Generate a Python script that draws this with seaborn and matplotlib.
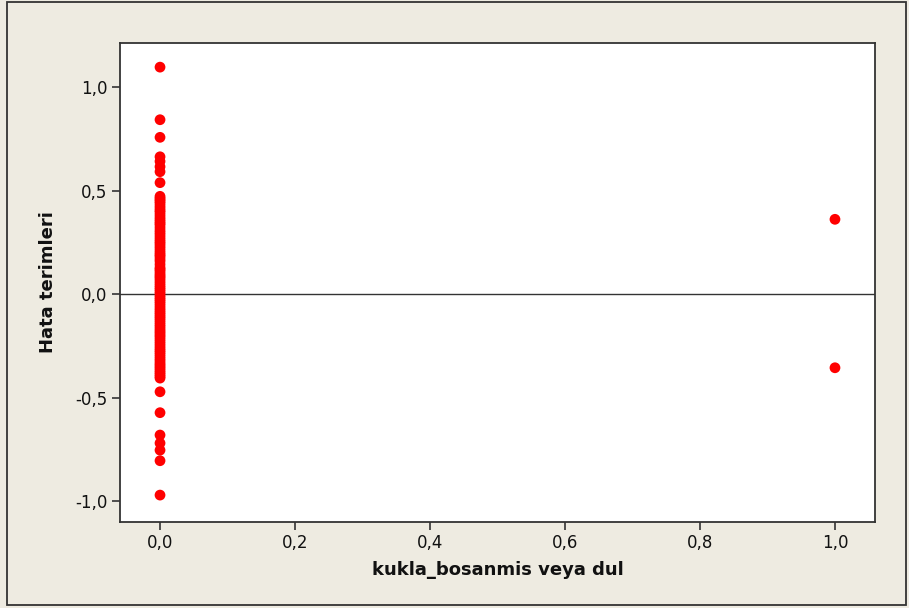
import matplotlib
matplotlib.use("Agg")
import matplotlib.pyplot as plt
import matplotlib.patches as mpatches
from matplotlib.ticker import FuncFormatter
import seaborn as sns
import pandas as pd

# Residuals for observations with kukla_bosanmis veya dul = 0
resid_group0 = [
    1.096, 0.842, 0.757, 0.663, 0.641, 0.615, 0.591, 0.538,
    0.472, 0.463, 0.455, 0.447, 0.438, 0.426, 0.415, 0.404, 0.396, 0.384,
    0.372, 0.361, 0.351, 0.342, 0.334, 0.321, 0.308, 0.297, 0.286, 0.274,
    0.262, 0.252, 0.243, 0.232, 0.221, 0.209, 0.198, 0.189, 0.181, 0.169,
    0.158, 0.143, 0.128, 0.120, 0.112, 0.101, 0.091, 0.083, 0.074, 0.063,
    0.052, 0.041, 0.031, 0.022, 0.012, 0.002, -0.008, -0.018, -0.027,
    -0.036, -0.046, -0.057, -0.068, -0.078, -0.088, -0.097, -0.107, -0.116,
    -0.126, -0.137, -0.148, -0.158, -0.169, -0.179, -0.188, -0.198, -0.207,
    -0.218, -0.229, -0.240, -0.251, -0.262, -0.272, -0.281, -0.291, -0.302,
    -0.313, -0.323, -0.334, -0.343, -0.352, -0.361, -0.371, -0.380, -0.389,
    -0.398, -0.406,
    -0.472, -0.573, -0.681, -0.720, -0.754, -0.805, -0.971,
]
# Residuals for observations with kukla_bosanmis veya dul = 1
resid_group1 = [0.361, -0.356]

x_values = [0.0] * len(resid_group0) + [1.0] * len(resid_group1)
y_values = resid_group0 + resid_group1
df = pd.DataFrame({"kukla_bosanmis veya dul": x_values, "Hata terimleri": y_values})

x_ticks = [0.0, 0.2, 0.4, 0.6, 0.8, 1.0]
y_ticks = [-1.0, -0.5, 0.0, 0.5, 1.0]

sns.set_theme(style="white")
plt.rcParams["font.family"] = ["DejaVu Sans"]

bg = "#EEEBE1"
fig = plt.figure(figsize=(9.09, 6.08), dpi=100, facecolor=bg)
ax = fig.add_axes([120 / 909, 86 / 608, 755 / 909, 479 / 608])
ax.set_facecolor("white")

ax.axhline(0.0, color="#333333", linewidth=1.0, zorder=1)

sns.scatterplot(data=df, x="kukla_bosanmis veya dul", y="Hata terimleri",
                color="#FF0000", s=60, linewidth=0, edgecolor="none",
                ax=ax, zorder=3)

ax.set_xlim(-0.0593, 1.0593)
ax.set_ylim(-1.101, 1.2126)
ax.set_xticks(x_ticks)
ax.set_yticks(y_ticks)
comma = FuncFormatter(lambda v, p: f"{v:.1f}".replace(".", ","))
ax.xaxis.set_major_formatter(comma)
ax.yaxis.set_major_formatter(comma)
ax.tick_params(axis="both", which="major", direction="out", length=6, width=1.2,
               color="#333333", labelsize=12, labelcolor="#111111", pad=3,
               bottom=True, left=True)

for sp in ax.spines.values():
    sp.set_color("#333333")
    sp.set_linewidth(1.3)

ax.set_xlabel("kukla_bosanmis veya dul", fontsize=13, fontweight="bold",
              color="#111111", labelpad=6)
ax.set_ylabel("Hata terimleri", fontsize=13, fontweight="bold",
              color="#111111", labelpad=13)

# Outer frame of the graph window
frame = mpatches.Rectangle((7 / 909, 3 / 608), 899 / 909, 603 / 608,
                           transform=fig.transFigure, fill=False,
                           edgecolor="#333333", linewidth=1.3)
fig.patches.append(frame)

fig.savefig("out.png", dpi=100, facecolor=bg)
